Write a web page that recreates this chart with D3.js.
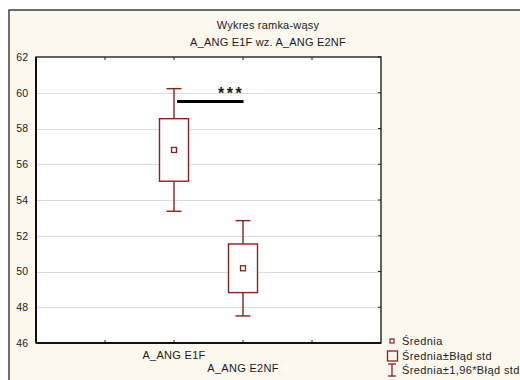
<!DOCTYPE html>
<html>
<head>
<meta charset="utf-8">
<script src="https://cdn.jsdelivr.net/npm/d3@7"></script>
<style>
  html, body { margin: 0; padding: 0; background: #ffffff; }
  svg { display: block; }
  text { font-family: "Liberation Sans", Arial, sans-serif; fill: #1a1a1a; }
</style>
</head>
<body>
<svg id="chart" width="520" height="380"></svg>
<script>
// Group labels, means and standard errors
const categories = ["A_ANG E1F", "A_ANG E2NF"];
const means = [56.8, 50.18];
const stdErrors = [1.75, 1.36];
const zFactor = 1.96;
const yTicks = [46, 48, 50, 52, 54, 56, 58, 60, 62];
const titleLines = ["Wykres ramka-wąsy", "A_ANG E1F wz. A_ANG E2NF"];
const legendLabels = ["Średnia", "Średnia±Błąd std", "Średnia±1,96*Błąd std"];
const significance = "***";

const svg = d3.select("#chart");
const W = 520, H = 380;
const plot = { left: 36, top: 57, right: 381, bottom: 343 };
const red = "#8b2020";

// panel background
svg.append("rect").attr("x", 9).attr("y", 10).attr("width", W).attr("height", H)
  .attr("fill", "#fdf8ee").attr("stroke", "#111").attr("stroke-width", 1.2);

// titles
svg.selectAll(".title").data(titleLines).join("text")
  .attr("class", "title")
  .attr("x", 268).attr("y", (d, i) => 29 + i * 17)
  .attr("text-anchor", "middle")
  .attr("font-size", 11).attr("letter-spacing", 0.2)
  .text(d => d);

// scales: six equally spaced positions, the groups sit on positions 2 and 3
const x = d3.scaleLinear().domain([0, 5]).range([plot.left, plot.right]);
const y = d3.scaleLinear().domain([46, 62]).range([plot.bottom, plot.top]);
const xPos = i => x(i + 2);

// plot background
svg.append("rect").attr("x", plot.left).attr("y", plot.top)
  .attr("width", plot.right - plot.left).attr("height", plot.bottom - plot.top)
  .attr("fill", "#ffffff");

// horizontal grid
svg.append("g").selectAll("line").data(yTicks.slice(1, -1)).join("line")
  .attr("x1", plot.left).attr("x2", plot.right)
  .attr("y1", d => Math.round(y(d)) + 0.5).attr("y2", d => Math.round(y(d)) + 0.5)
  .attr("stroke", "#dcdcdc").attr("stroke-width", 1.2);

// y axis
const yAxis = d3.axisLeft(y).tickValues(yTicks).tickSize(0).tickPadding(8).tickFormat(d3.format("d"));
const gy = svg.append("g").attr("transform", `translate(${plot.left},0)`).call(yAxis);
gy.select(".domain").remove();
gy.selectAll("text").attr("font-size", 10.5).attr("fill", "#222")
  .style("font-family", "'Liberation Sans', Arial, sans-serif");

// inner ticks on right side
svg.append("g").selectAll("line").data(yTicks).join("line")
  .attr("x1", plot.right - 3).attr("x2", plot.right)
  .attr("y1", d => y(d)).attr("y2", d => y(d))
  .attr("stroke", "#222");

// x ticks top and bottom (inner)
const xTickVals = [1, 2, 3, 4];
svg.append("g").selectAll("line").data(xTickVals).join("line")
  .attr("x1", d => x(d)).attr("x2", d => x(d))
  .attr("y1", plot.bottom - 3).attr("y2", plot.bottom).attr("stroke", "#222");
svg.append("g").selectAll("line").data(xTickVals).join("line")
  .attr("x1", d => x(d)).attr("x2", d => x(d))
  .attr("y1", plot.top).attr("y2", plot.top + 3).attr("stroke", "#222");

// x category labels, staggered
svg.selectAll(".xlab").data(categories).join("text")
  .attr("class", "xlab")
  .attr("x", (d, i) => xPos(i))
  .attr("y", (d, i) => 359 + i * 13)
  .attr("text-anchor", "middle")
  .attr("font-size", 11).attr("letter-spacing", 0.3)
  .text(d => d);

// whiskers and boxes
const groups = svg.append("g").selectAll("g").data(categories).join("g");
const capW = 15, boxW = 29;
groups.each(function (d, i) {
  const g = d3.select(this);
  const cx = xPos(i);
  const m = means[i], se = stdErrors[i];
  const hi = m + zFactor * se, lo = m - zFactor * se;
  g.append("line").attr("x1", cx).attr("x2", cx).attr("y1", y(hi)).attr("y2", y(m + se))
    .attr("stroke", red).attr("stroke-width", 1.4);
  g.append("line").attr("x1", cx).attr("x2", cx).attr("y1", y(m - se)).attr("y2", y(lo))
    .attr("stroke", red).attr("stroke-width", 1.4);
  g.append("line").attr("x1", cx - capW / 2).attr("x2", cx + capW / 2).attr("y1", y(hi)).attr("y2", y(hi))
    .attr("stroke", red).attr("stroke-width", 1.4);
  g.append("line").attr("x1", cx - capW / 2).attr("x2", cx + capW / 2).attr("y1", y(lo)).attr("y2", y(lo))
    .attr("stroke", red).attr("stroke-width", 1.4);
  g.append("rect").attr("x", cx - boxW / 2).attr("y", y(m + se))
    .attr("width", boxW).attr("height", y(m - se) - y(m + se))
    .attr("fill", "#ffffff").attr("stroke", red).attr("stroke-width", 1.4);
  g.append("rect").attr("x", cx - 2.5).attr("y", y(m) - 2.5).attr("width", 5).attr("height", 5)
    .attr("fill", "#ffffff").attr("stroke", red).attr("stroke-width", 1.3);
});

// significance bar with stars
const barY = 101.5;
svg.append("line").attr("x1", xPos(0) + 3).attr("x2", xPos(1) + 0.5)
  .attr("y1", barY).attr("y2", barY)
  .attr("stroke", "#000").attr("stroke-width", 3);
svg.append("text").attr("x", xPos(0) + 44).attr("y", 99)
  .attr("font-size", 16).attr("font-weight", "bold")
  .attr("letter-spacing", 2.5)
  .text(significance);

// plot frame
svg.append("rect").attr("x", plot.left).attr("y", plot.top)
  .attr("width", plot.right - plot.left).attr("height", plot.bottom - plot.top)
  .attr("fill", "none").attr("stroke", "#111").attr("stroke-width", 1.3);
svg.append("line").attr("x1", plot.left).attr("x2", plot.left).attr("y1", plot.top).attr("y2", plot.bottom)
  .attr("stroke", "#111").attr("stroke-width", 2);
svg.append("line").attr("x1", plot.left).attr("x2", plot.right).attr("y1", plot.bottom).attr("y2", plot.bottom)
  .attr("stroke", "#111").attr("stroke-width", 2);

// legend
const lg = svg.append("g");
const lx = 392, ly = [341, 356, 370];
lg.append("rect").attr("x", lx - 2).attr("y", ly[0] - 2).attr("width", 4).attr("height", 4)
  .attr("fill", "#fff").attr("stroke", red).attr("stroke-width", 1.2);
lg.append("rect").attr("x", lx - 4.5).attr("y", ly[1] - 5).attr("width", 10).attr("height", 10)
  .attr("fill", "none").attr("stroke", red).attr("stroke-width", 1.3);
lg.append("line").attr("x1", lx).attr("x2", lx).attr("y1", ly[2] - 6).attr("y2", ly[2] + 6)
  .attr("stroke", red).attr("stroke-width", 1.3);
lg.append("line").attr("x1", lx - 4).attr("x2", lx + 4).attr("y1", ly[2] - 6).attr("y2", ly[2] - 6)
  .attr("stroke", red).attr("stroke-width", 1.3);
lg.append("line").attr("x1", lx - 4).attr("x2", lx + 4).attr("y1", ly[2] + 6).attr("y2", ly[2] + 6)
  .attr("stroke", red).attr("stroke-width", 1.3);
lg.selectAll("text").data(legendLabels).join("text")
  .attr("x", 402).attr("y", (d, i) => ly[i] + 4)
  .attr("font-size", 11).attr("letter-spacing", 0.4)
  .text(d => d);
</script>
</body>
</html>
